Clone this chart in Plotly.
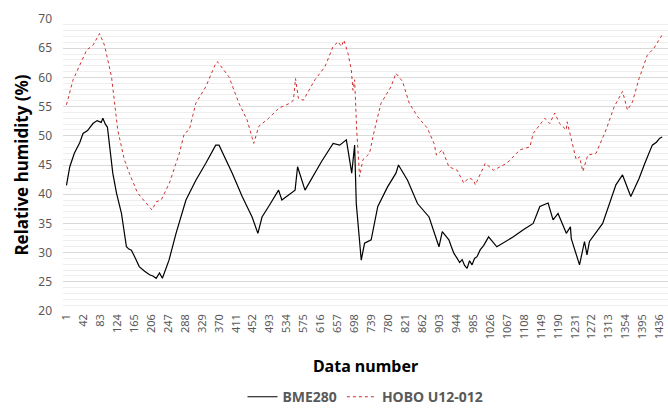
import plotly.graph_objects as go

# BME280 (black solid) - data number and relative humidity (%)
bme_n = [1, 9, 20, 33, 41, 52, 65, 75, 85, 89, 95, 100, 113, 122, 134, 146, 152, 158, 168, 177, 190, 202, 210,
         218, 226, 233, 249, 266, 290, 314, 338, 362,
         370, 402, 426, 450, 464, 474, 490, 514, 522, 554, 560, 578, 618, 646, 662, 678, 691, 698, 702, 714,
         722, 738, 754, 778, 798, 804, 826, 850, 878, 902, 910, 926, 932, 938, 946, 952, 958, 964, 970, 976,
         982, 988, 994, 1002, 1010, 1022, 1042, 1082, 1106,
         1130, 1146, 1166, 1178, 1190, 1210, 1220, 1222, 1242, 1254, 1260, 1266, 1298, 1330, 1346, 1366,
         1386, 1400, 1418, 1428, 1436, 1442]
bme_rh = [41.5, 44.7, 47.0, 48.8, 50.4, 50.9, 52.1, 52.6, 52.3, 53.0, 52.0, 51.5, 43.6, 40.2, 36.7, 31.0, 30.6,
          30.4, 29.0, 27.6, 26.8, 26.2, 26.0, 25.6, 26.5, 25.6, 28.7,
          33.3, 39.0, 42.4, 45.3, 48.4, 48.4, 43.6, 39.6, 36.1, 33.3, 36.1, 37.9, 40.7, 39.0, 40.7, 44.7, 40.7,
          45.6, 48.7, 48.4, 49.3, 43.6, 48.4, 38.4, 28.7, 31.6, 32.2, 37.9, 41.3, 43.6, 45.0, 42.4, 38.4, 36.1,
          31.0, 33.6, 32.2, 31.0, 29.9, 29.0, 28.3, 28.8, 27.8, 27.3, 28.6, 27.9, 29.0, 29.3, 30.5, 31.2, 32.7,
          31.0, 32.7, 33.9, 35.0, 37.9, 38.5, 35.6, 36.7, 33.3, 34.4,
          32.4, 27.9, 31.9, 29.6, 31.9, 35.0, 41.6, 43.3, 39.6, 42.7, 45.3, 48.4, 48.9, 49.6, 49.8]

# HOBO U12-012 (red dotted)
hobo_n = [1, 17, 50, 65, 81, 93, 110, 125, 141, 153, 173, 194, 208, 218, 230, 250, 274, 286, 298, 314, 338, 362,
          366, 394, 418, 438, 454, 466, 490, 514, 542, 550, 555, 562, 574, 602, 626, 646, 658, 666, 672, 682,
          690, 694, 698, 703, 710, 718, 734, 746, 762, 786, 798, 814, 830, 850, 874, 890, 896, 910, 926, 946,
          962, 974, 986, 990, 1014, 1034, 1066, 1098, 1122, 1130, 1158, 1170, 1182, 1194, 1210, 1212, 1222, 1234,
          1242, 1250, 1262, 1282, 1306, 1326, 1346, 1358, 1370, 1386, 1406, 1422, 1442]
hobo_rh = [55.3, 59.6, 64.7, 65.5, 67.5, 65.5, 60.1, 51.0, 45.9, 43.6, 40.2, 38.4, 37.3, 38.7, 39.0, 41.9, 47.0,
           50.4, 51.0, 55.6, 58.4, 62.4, 62.7, 60.1, 55.6, 52.7, 48.7, 51.6, 53.0, 54.7, 55.6, 56.1, 59.8, 56.4,
           56.1, 59.6, 61.8, 65.3, 66.1, 65.3, 66.4, 64.1, 61.3, 57.8, 59.6, 51.0, 43.0, 45.9, 47.0, 51.0, 55.6,
           58.4, 60.7, 59.3, 55.6, 53.3, 51.3, 48.7, 46.7, 47.6, 44.7, 44.1, 41.9, 42.8, 42.4, 41.6, 45.3, 44.1,
           45.3, 47.6, 48.1, 50.4, 53.0, 52.1, 53.9, 52.1, 51.0, 52.4, 49.3, 45.9, 46.4, 43.9, 46.7, 47.0, 51.0,
           55.0, 57.6, 54.4, 55.8, 59.8, 63.8, 65.0, 67.3]

x_tick_labels = [1, 42, 83, 124, 165, 206, 247, 288, 329, 370, 411, 452, 493, 534, 575, 616, 657, 698, 739,
                 780, 821, 862, 903, 944, 985, 1026, 1067, 1108, 1149, 1190, 1231, 1272, 1313, 1354, 1395, 1436]
y_ticks = [20, 25, 30, 35, 40, 45, 50, 55, 60, 65, 70]

FONT = "Noto Sans"
GRAY = "#595959"

fig = go.Figure()
fig.add_trace(go.Scatter(x=bme_n, y=bme_rh, mode="lines", name="BME280",
                         line=dict(color="#000000", width=1.2)))
fig.add_trace(go.Scatter(x=hobo_n, y=hobo_rh, mode="lines", name="HOBO U12-012",
                         line=dict(color="#d03030", width=1, dash="dot")))

fig.update_layout(
    width=668, height=409,
    margin=dict(l=63, r=0, t=19, b=98, autoexpand=False),
    paper_bgcolor="white", plot_bgcolor="white",
    font=dict(family=FONT, color=GRAY),
    showlegend=True,
    legend=dict(orientation="h", x=0.5, xanchor="center", y=-0.295, yanchor="middle",
                font=dict(family=FONT, size=14, color=GRAY, weight="bold"),
                itemwidth=30, tracegroupgap=0),
)
fig.update_xaxes(
    automargin=False,
    range=[-7.4, 1456], tickmode="array", tickvals=x_tick_labels,
    ticktext=[str(v) for v in x_tick_labels], tickangle=-90, ticklabeloverflow="allow",
    tickfont=dict(family=FONT, size=11, color=GRAY),
    showgrid=False, zeroline=False, showline=False, ticks="",
    title=dict(text="Data number", font=dict(family=FONT, size=16, color="#000000", weight="bold"),
               standoff=22),
)
fig.update_yaxes(
    automargin=False,
    range=[20, 70], tickmode="array", tickvals=y_ticks,
    tickfont=dict(family=FONT, size=12, color=GRAY), ticklabelstandoff=10,
    showgrid=True, gridcolor="#d9d9d9", gridwidth=1, zeroline=False, showline=False, ticks="",
    minor=dict(dtick=1, showgrid=True, gridcolor="#eeeeee", gridwidth=1),
    title=dict(text="Relative humidity (%)", font=dict(family=FONT, size=17, color="#000000", weight="bold"),
               standoff=5),
)

fig.write_html("out.html", config={"displayModeBar": False},
               post_script="document.body.style.margin='0';")
